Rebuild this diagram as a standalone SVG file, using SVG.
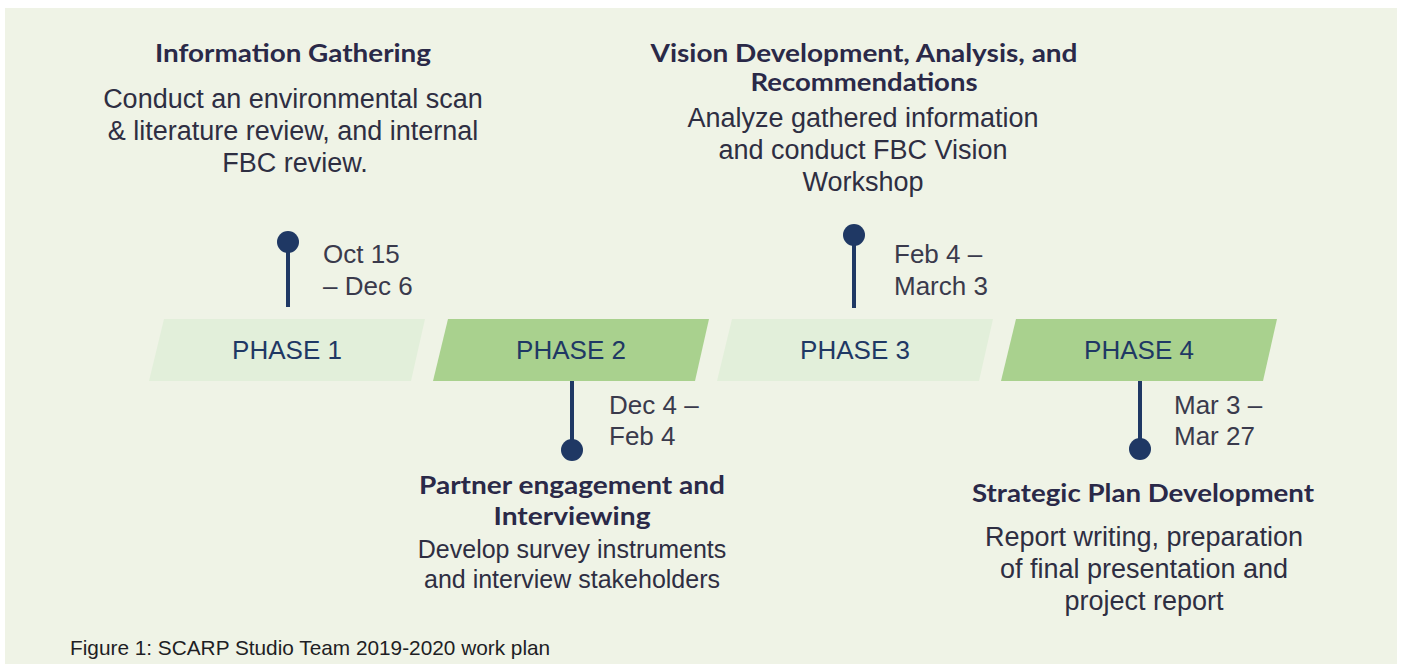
<svg xmlns="http://www.w3.org/2000/svg" width="1402" height="664" viewBox="0 0 1402 664">
<style>
.bar-light{fill:#e2efda}
.bar-dark{fill:#a9d18e}
.phase{font-family:"Liberation Sans",Arial,sans-serif;font-size:26px;fill:#1f3864;text-anchor:middle}
.date{font-family:"Liberation Sans",Arial,sans-serif;font-size:26px;fill:#3a3a4c}
.head{font-family:Lato,"DejaVu Sans Condensed",sans-serif;font-weight:bold;font-size:24px;fill:#2a2948;text-anchor:middle}
.body{font-family:"Liberation Sans",Arial,sans-serif;font-size:27px;fill:#2e2e42;text-anchor:middle}
.body25{font-family:"Liberation Sans",Arial,sans-serif;font-size:25px;fill:#2e2e42;text-anchor:middle}
.cap{font-family:"Liberation Sans",Arial,sans-serif;font-size:20.8px;fill:#1e1e24}
.stem{stroke:#1f3864;stroke-width:4;fill:none}
.dot{fill:#1f3864}
</style>
<rect x="0" y="0" width="1402" height="664" fill="#ffffff"/>
<rect x="5" y="8" width="1392" height="660" fill="#eff3e6"/>

<g id="connectors">
  <line class="stem" x1="288" y1="242" x2="288" y2="307"/>
  <circle class="dot" cx="288" cy="242" r="11"/>
  <line class="stem" x1="572" y1="381" x2="572" y2="450"/>
  <circle class="dot" cx="572" cy="450" r="11"/>
  <line class="stem" x1="854" y1="235" x2="854" y2="308"/>
  <circle class="dot" cx="854" cy="235" r="11"/>
  <line class="stem" x1="1140" y1="381" x2="1140" y2="449"/>
  <circle class="dot" cx="1140" cy="449" r="11"/>
</g>

<g id="phase1">
  <polygon class="bar-light" points="164,319 425,319 411,381 149,381"/>
  <text class="phase" x="287" y="359">PHASE 1</text>
  <text class="date" x="323" y="263">Oct 15</text>
  <text class="date" x="323" y="295">– Dec 6</text>
  <text class="head" x="293" y="62" textLength="276" lengthAdjust="spacingAndGlyphs">Information Gathering</text>
  <text class="body" x="293" y="108">Conduct an environmental scan</text>
  <text class="body" x="293" y="140">&amp; literature review, and internal</text>
  <text class="body" x="295" y="172">FBC review.</text>
</g>

<g id="phase2">
  <polygon class="bar-dark" points="448,319 709,319 695,381 433,381"/>
  <text class="phase" x="571" y="359">PHASE 2</text>
  <text class="date" x="609" y="414">Dec 4 –</text>
  <text class="date" x="609" y="445">Feb 4</text>
  <text class="head" x="572" y="494" textLength="306" lengthAdjust="spacingAndGlyphs">Partner engagement and</text>
  <text class="head" x="572" y="525" textLength="157" lengthAdjust="spacingAndGlyphs">Interviewing</text>
  <text class="body25" x="572" y="558">Develop survey instruments</text>
  <text class="body25" x="572" y="588">and interview stakeholders</text>
</g>

<g id="phase3">
  <polygon class="bar-light" points="732,319 993,319 979,381 717,381"/>
  <text class="phase" x="855" y="359">PHASE 3</text>
  <text class="date" x="894" y="263">Feb 4 –</text>
  <text class="date" x="894" y="295">March 3</text>
  <text class="head" x="864" y="62" textLength="427" lengthAdjust="spacingAndGlyphs">Vision Development, Analysis, and</text>
  <text class="head" x="864" y="91" textLength="227" lengthAdjust="spacingAndGlyphs">Recommendations</text>
  <text class="body" x="863" y="127">Analyze gathered information</text>
  <text class="body" x="863" y="159">and conduct FBC Vision</text>
  <text class="body" x="863" y="191">Workshop</text>
</g>

<g id="phase4">
  <polygon class="bar-dark" points="1016,319 1277,319 1263,381 1001,381"/>
  <text class="phase" x="1139" y="359">PHASE 4</text>
  <text class="date" x="1174" y="414">Mar 3 –</text>
  <text class="date" x="1174" y="445">Mar 27</text>
  <text class="head" x="1143" y="502" textLength="342" lengthAdjust="spacingAndGlyphs">Strategic Plan Development</text>
  <text class="body" x="1144" y="546">Report writing, preparation</text>
  <text class="body" x="1144" y="578">of final presentation and</text>
  <text class="body" x="1144" y="610">project report</text>
</g>

<g id="caption">
  <text class="cap" x="70" y="655">Figure 1: SCARP Studio Team 2019-2020 work plan</text>
</g>
</svg>
